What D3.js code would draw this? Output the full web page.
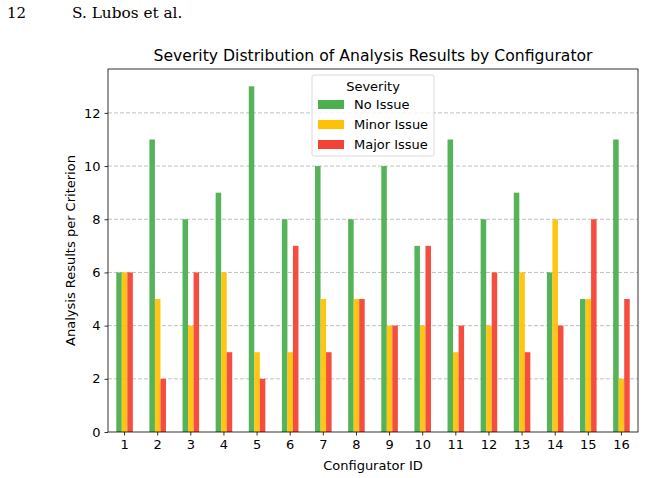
<!DOCTYPE html>
<html>
<head>
<meta charset="utf-8">
<script src="https://cdn.jsdelivr.net/npm/d3@7"></script>
<style>
  body { margin: 0; background: #fff; }
  svg { display: block; font-family: "DejaVu Sans", sans-serif; }
</style>
</head>
<body>
<div id="chart"></div>
<script>
const configurators = ["1","2","3","4","5","6","7","8","9","10","11","12","13","14","15","16"];
const severities = ["No Issue", "Minor Issue", "Major Issue"];
const noIssue    = [6, 11, 8, 9, 13, 8, 10, 8, 10, 7, 11, 8, 9, 6, 5, 11];
const minorIssue = [6, 5, 4, 6, 3, 3, 5, 5, 4, 4, 3, 4, 6, 8, 5, 2];
const majorIssue = [6, 2, 6, 3, 2, 7, 3, 5, 4, 7, 4, 6, 3, 4, 8, 5];
const yTicks = [0, 2, 4, 6, 8, 10, 12];
const colors = ["#4CAF50", "#FFC107", "#F44336"];

const series = [noIssue, minorIssue, majorIssue];
const width = 646, height = 478;
const margin = { top: 69, right: 8, bottom: 46, left: 108 };

const svg = d3.select("#chart").append("svg")
  .attr("width", width).attr("height", height);

// page header
svg.append("text").attr("x", 7).attr("y", 18)
  .style("font-family", "'DejaVu Serif', serif").style("font-size", "15px").text("12");
svg.append("text").attr("x", 72).attr("y", 18)
  .style("font-family", "'DejaVu Serif', serif").style("font-size", "15.3px").text("S. Lubos et al.");

const x = d3.scaleBand()
  .domain(configurators)
  .range([margin.left, width - margin.right]);

const y = d3.scaleLinear()
  .domain([0, 13.65])
  .range([height - margin.bottom, margin.top]);

// grid
svg.append("g")
  .selectAll("line")
  .data(yTicks.slice(1))
  .join("line")
  .attr("x1", margin.left).attr("x2", width - margin.right)
  .attr("y1", d => y(d)).attr("y2", d => y(d))
  .attr("stroke", "#b0b0b0").attr("stroke-width", 0.8)
  .attr("stroke-dasharray", "4,2");

// bars
const barW = x.bandwidth() * 0.5 / 3;
series.forEach((vals, i) => {
  svg.append("g")
    .selectAll("rect")
    .data(vals.map((v, j) => ({ c: configurators[j], v })))
    .join("rect")
    .attr("x", d => x(d.c) + x.bandwidth() / 2 - x.bandwidth() * 0.25 + i * barW)
    .attr("y", d => y(d.v))
    .attr("width", barW)
    .attr("height", d => y(0) - y(d.v))
    .attr("fill", colors[i])
    .attr("fill-opacity", 0.95);
});

// axes
const xAxis = svg.append("g")
  .attr("transform", `translate(0,${height - margin.bottom})`)
  .call(d3.axisBottom(x).tickSizeOuter(0).tickSize(3.5).tickPadding(4));
const yAxis = svg.append("g")
  .attr("transform", `translate(${margin.left},0)`)
  .call(d3.axisLeft(y).tickValues(yTicks).tickSizeOuter(0).tickSize(3.5).tickPadding(4));
[xAxis, yAxis].forEach(a => {
  a.attr("font-family", "DejaVu Sans");
  a.selectAll("text").style("font-size", "13px").attr("fill", "#000");
  a.selectAll("line").attr("stroke", "#000").attr("stroke-width", 0.8);
  a.select(".domain").remove();
});

// frame
svg.append("rect")
  .attr("x", margin.left).attr("y", margin.top)
  .attr("width", width - margin.left - margin.right)
  .attr("height", height - margin.top - margin.bottom)
  .attr("fill", "none").attr("stroke", "#000").attr("stroke-width", 0.8);

// titles
svg.append("text")
  .attr("x", (margin.left + width - margin.right) / 2).attr("y", 61)
  .attr("text-anchor", "middle").style("font-size", "15.65px")
  .text("Severity Distribution of Analysis Results by Configurator");
svg.append("text")
  .attr("x", (margin.left + width - margin.right) / 2).attr("y", 470)
  .attr("text-anchor", "middle").style("font-size", "13px")
  .text("Configurator ID");
svg.append("text")
  .attr("transform", `translate(75,${(margin.top + height - margin.bottom) / 2}) rotate(-90)`)
  .attr("text-anchor", "middle").style("font-size", "13px")
  .text("Analysis Results per Criterion");

// legend
const legend = svg.append("g").attr("transform", "translate(312,75)");
legend.append("rect")
  .attr("width", 122).attr("height", 81).attr("rx", 2)
  .attr("fill", "#fff").attr("fill-opacity", 0.8)
  .attr("stroke", "#d0d0d0").attr("stroke-width", 0.8);
legend.append("text")
  .attr("x", 61).attr("y", 16).attr("text-anchor", "middle")
  .style("font-size", "13px").text("Severity");
severities.forEach((s, i) => {
  legend.append("rect")
    .attr("x", 6).attr("y", 25 + i * 20).attr("width", 26).attr("height", 9)
    .attr("fill", colors[i]);
  legend.append("text")
    .attr("x", 42).attr("y", 34 + i * 20)
    .style("font-size", "13px").text(s);
});
</script>
</body>
</html>
